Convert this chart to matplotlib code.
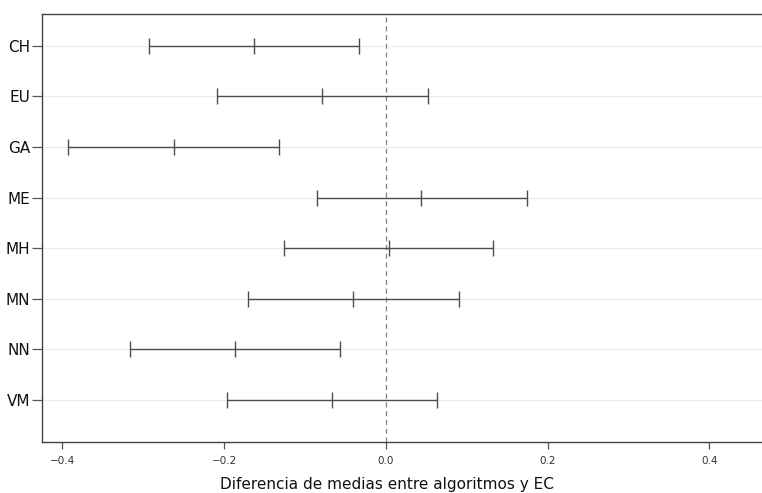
import matplotlib
matplotlib.use("Agg")
import matplotlib.pyplot as plt
import numpy as np

# Algorithms compared against EC: lower bound, mean difference, upper bound
algorithms = ["CH", "EU", "GA", "ME", "MH", "MN", "NN", "VM"]
lower = [-0.293, -0.209, -0.393, -0.085, -0.126, -0.170, -0.316, -0.196]
mean_diff = [-0.163, -0.079, -0.262, 0.044, 0.004, -0.041, -0.186, -0.067]
upper = [-0.033, 0.052, -0.132, 0.175, 0.133, 0.090, -0.057, 0.063]
x_ticks = [-0.4, -0.2, 0.0, 0.2, 0.4]

fig = plt.figure(figsize=(7.62, 4.93), dpi=100)
ax = fig.add_axes([0.0551, 0.1034, 0.9449, 0.8682])

n = len(algorithms)
ypos = np.arange(n, 0, -1)
mean_arr = np.array(mean_diff)
err = np.vstack([mean_arr - np.array(lower), np.array(upper) - mean_arr])

line_col = "#4d4d4d"
for y in ypos:
    ax.axhline(y, color="#ebebeb", lw=0.8, zorder=0)
ax.axvline(0, color="#7f7f7f", lw=0.9, ls=(0, (4, 3)), zorder=1)

ax.errorbar(mean_arr, ypos, xerr=err, fmt="none", ecolor=line_col,
            elinewidth=1.0, capsize=6, capthick=1.0, zorder=3)
ax.plot(mean_arr, ypos, ls="none", marker="|", markersize=12,
        markeredgewidth=1.0, color=line_col, zorder=4)

ax.set_xlim(-0.425, 0.465)
ax.set_ylim(0.17, 8.63)
ax.set_yticks(ypos)
ax.set_yticklabels(algorithms, fontsize=11, color="#111111")
ax.set_xticks(x_ticks)
ax.set_xticklabels([f"{t:.1f}".replace("-", "\u2212") for t in x_ticks],
                   fontsize=7.5, color="#333333")
ax.tick_params(axis="y", length=7, width=0.9, color="#555555", pad=1.5)
ax.tick_params(axis="x", length=5, width=0.9, color="#555555", pad=5)
ax.set_xlabel("Diferencia de medias entre algoritmos y EC", fontsize=11,
              color="#111111")
ax.xaxis.set_label_coords(0.479, -0.081)

for side in ["left", "bottom", "top"]:
    ax.spines[side].set_color("#444444")
    ax.spines[side].set_linewidth(1.0)
ax.spines["right"].set_visible(False)

fig.savefig("out.png", dpi=100)
